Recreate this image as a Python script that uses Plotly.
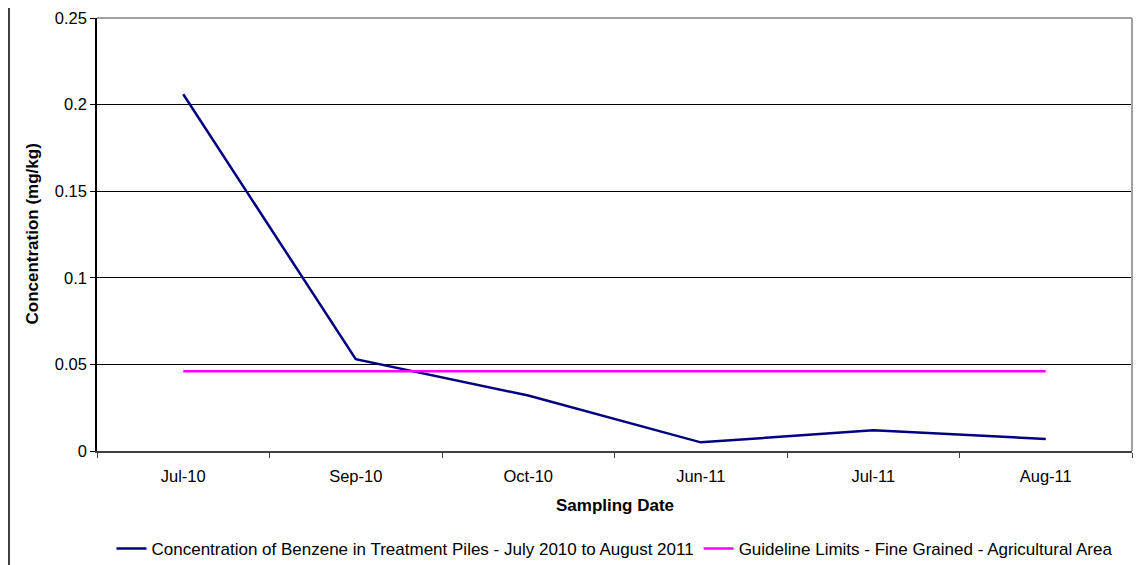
import plotly.graph_objects as go

categories = ["Jul-10", "Sep-10", "Oct-10", "Jun-11", "Jul-11", "Aug-11"]
benzene = [0.206, 0.053, 0.032, 0.005, 0.012, 0.007]
guideline = [0.046, 0.046, 0.046, 0.046, 0.046, 0.046]
series_names = [
    "Concentration of Benzene in Treatment Piles - July 2010 to August 2011",
    "Guideline Limits - Fine Grained - Agricultural Area",
]
y_ticks = [0, 0.05, 0.1, 0.15, 0.2, 0.25]

FONT = "Liberation Sans, Arial, sans-serif"

fig = go.Figure()
fig.add_trace(go.Scatter(x=categories, y=benzene, mode="lines", name=series_names[0],
                         line=dict(color="#000080", width=2.5)))
fig.add_trace(go.Scatter(x=categories, y=guideline, mode="lines", name=series_names[1],
                         line=dict(color="#FF00FF", width=2.5)))

OFF = 8  # page body margin
W, H = 1143 - OFF, 565 - OFF
PL, PR, PT, PB = 97, 1132, 17.5, 451  # plot area in window pixels
L, T = PL - OFF, PT - OFF
R = W - (PR - OFF)
B = H - (PB - OFF)
pw, ph = PR - PL, PB - PT

def px_x(p):
    return (p - PL) / pw

def px_y(p):
    return (PB - p) / ph

fig.update_layout(
    width=W, height=H,
    margin=dict(l=L, r=R, t=T, b=B, pad=0, autoexpand=False),
    paper_bgcolor="white", plot_bgcolor="white",
    font=dict(family=FONT, size=16, color="black"),
    showlegend=True,
    legend=dict(orientation="h", x=0.5, xanchor="center", y=px_y(549), yanchor="middle",
                font=dict(size=17), bgcolor="rgba(0,0,0,0)", itemwidth=30,
                tracegroupgap=0),
    xaxis=dict(type="category", range=[-0.5, 5.5], showgrid=False, zeroline=False,
               showline=True, linecolor="#404040", linewidth=1.5, automargin=False,
               ticks="outside", ticklen=5, tickcolor="#404040", tickson="boundaries",
               ticklabelstandoff=9, tickfont=dict(size=16.5)),
    yaxis=dict(range=[0, 0.25], tickvals=y_ticks, ticktext=[f"{v:g}" for v in y_ticks],
               showgrid=True, gridcolor="black", gridwidth=1, zeroline=False,
               showline=True, linecolor="black", linewidth=1.5, automargin=False,
               ticks="outside", ticklen=5, tickcolor="black", tickfont=dict(size=16.5)),
    annotations=[
        dict(text="<b>Sampling Date</b>", xref="paper", yref="paper", x=0.5, y=px_y(506),
             xanchor="center", yanchor="middle", showarrow=False, font=dict(size=17)),
        dict(text="<b>Concentration (mg/kg)</b>", xref="paper", yref="paper", x=px_x(32), y=0.5,
             xanchor="center", yanchor="middle", textangle=-90, showarrow=False,
             font=dict(size=17)),
    ],
    shapes=[
        # plot area border (top and right, grey)
        dict(type="line", xref="paper", yref="paper", x0=0, x1=1, y0=1, y1=1,
             line=dict(color="#a0a0a0", width=2), layer="above"),
        dict(type="line", xref="paper", yref="paper", x0=1, x1=1, y0=0, y1=1,
             line=dict(color="#a0a0a0", width=2), layer="above"),
        # outer chart frame (left and right)
        dict(type="line", xref="paper", yref="paper", x0=px_x(OFF + 1), x1=px_x(OFF + 1),
             y0=px_y(-5), y1=px_y(570), line=dict(color="black", width=1.5)),
        dict(type="line", xref="paper", yref="paper", x0=px_x(1141.5), x1=px_x(1141.5),
             y0=px_y(-5), y1=px_y(570), line=dict(color="#e0e0e0", width=1)),
    ],
)

fig.write_html("out.html")
